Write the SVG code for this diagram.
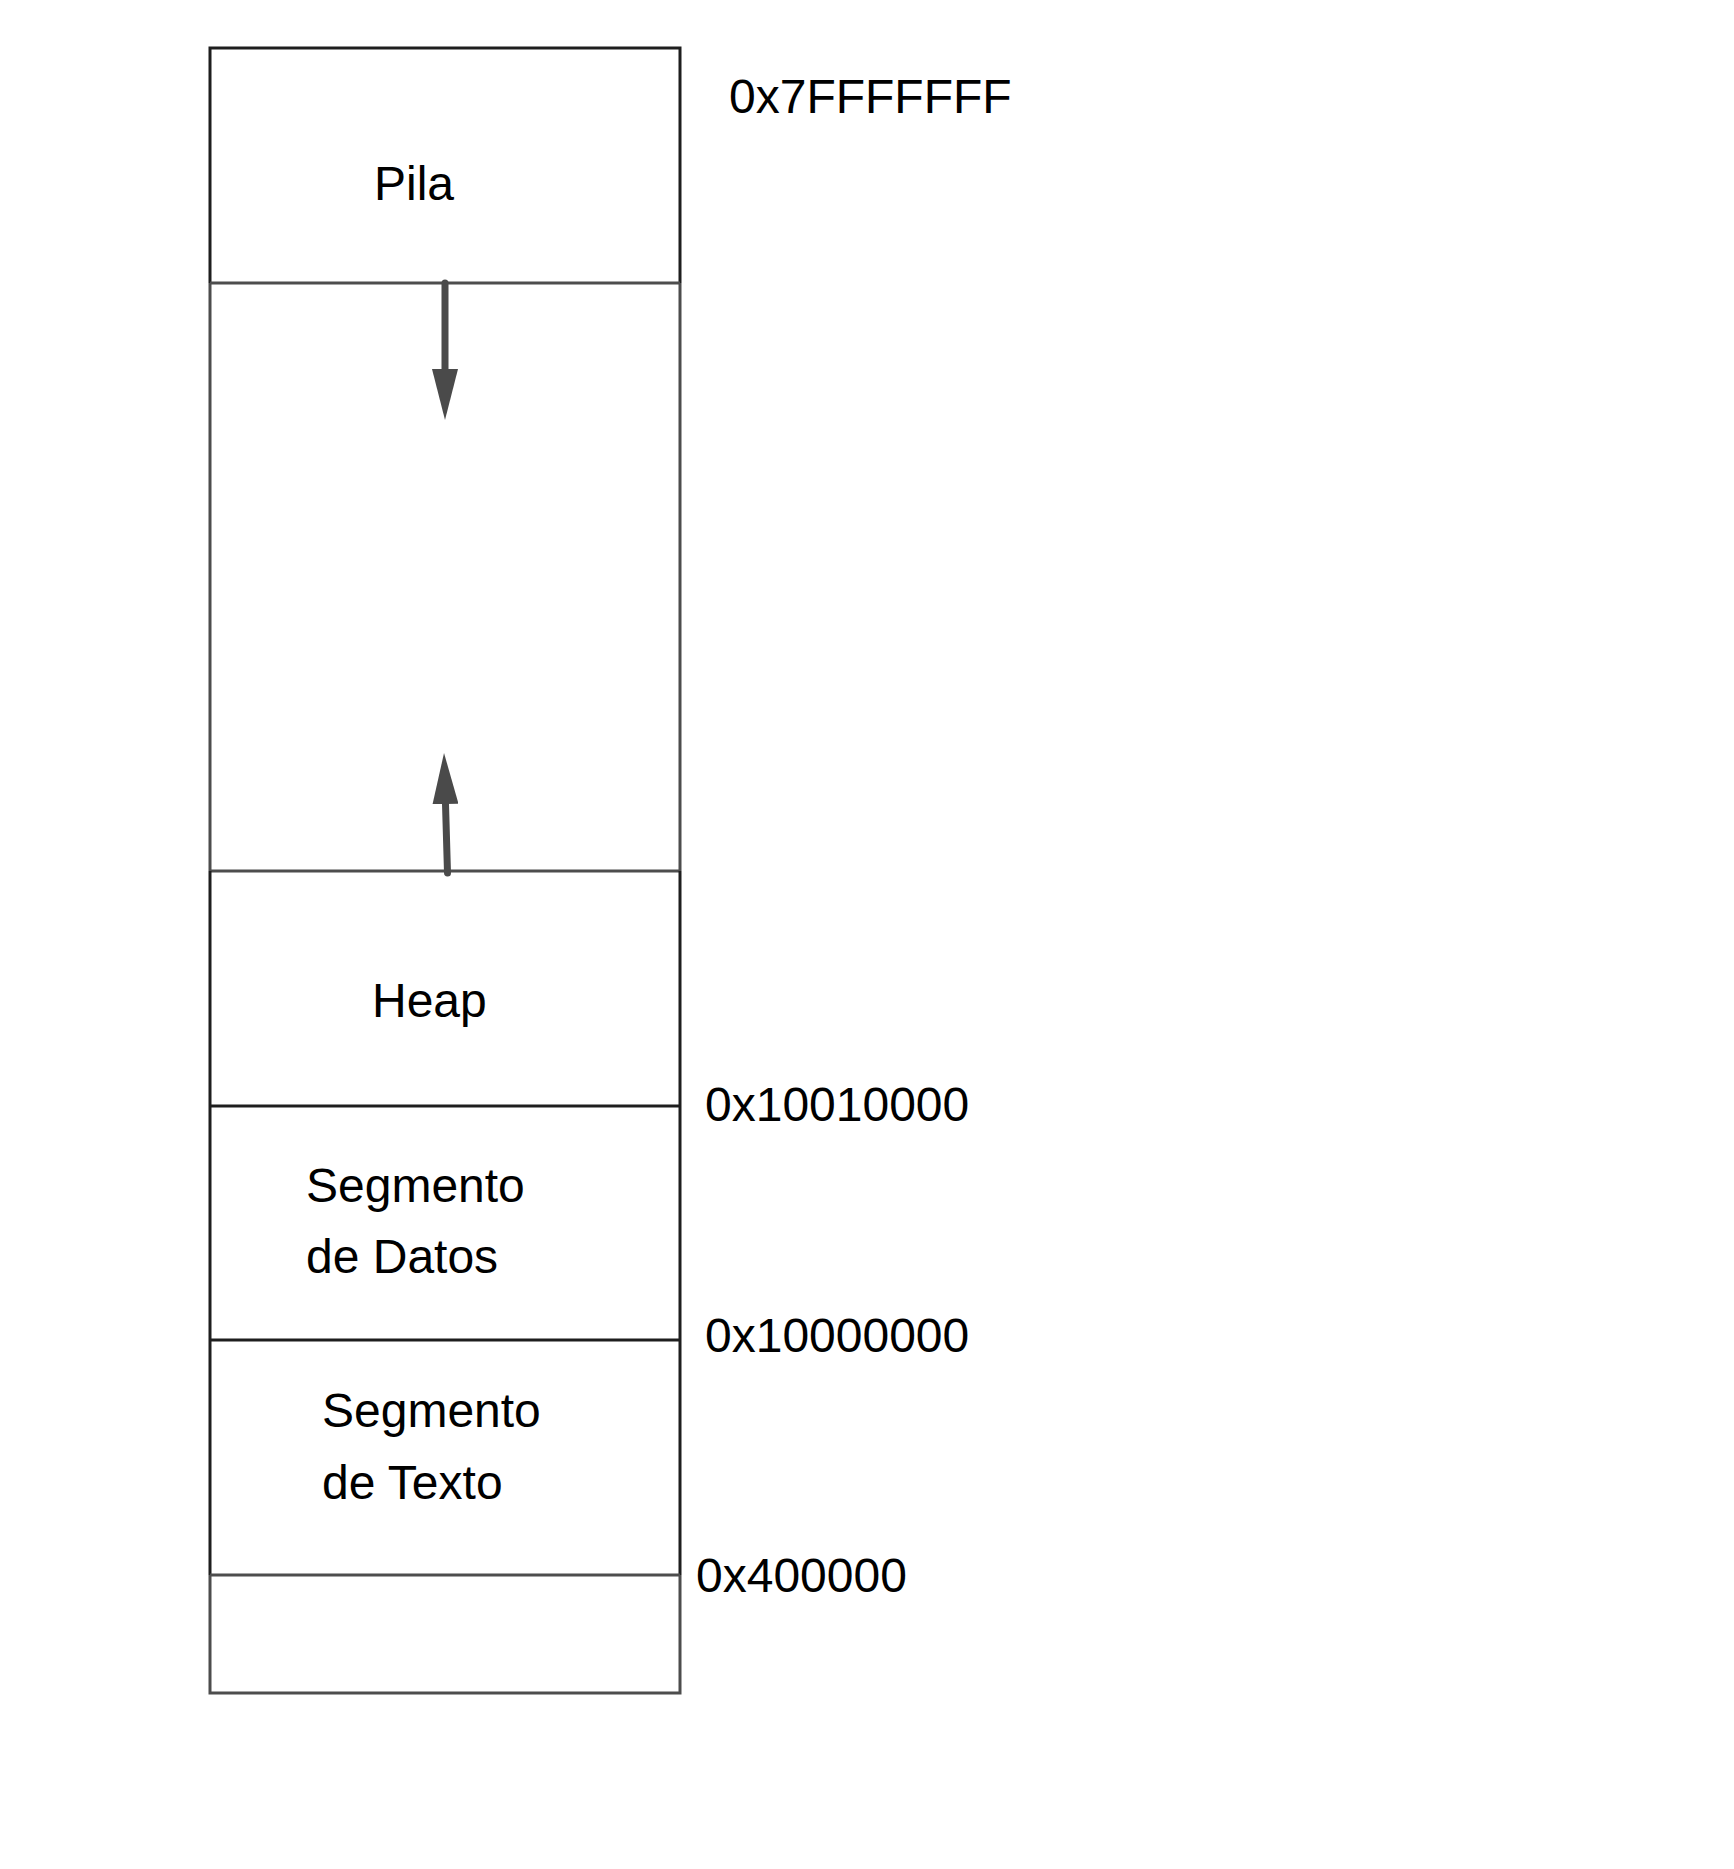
<svg xmlns="http://www.w3.org/2000/svg" width="1734" height="1869" viewBox="0 0 1734 1869">
<style>
.bk{fill:none;stroke:#1e1e1e;stroke-width:3}
.gr{fill:none;stroke:#4d4d4d;stroke-width:3}
.t{font-family:"Liberation Sans",Arial,sans-serif;font-size:48px;fill:#000}
.arr{stroke:#4a4a4a;stroke-width:7;stroke-linecap:round;fill:none}
</style>
<defs>
<marker id="ah" markerUnits="userSpaceOnUse" markerWidth="52" markerHeight="26" refX="0" refY="13" orient="auto" viewBox="0 0 52 26">
<path d="M0,0 L51,13 L0,26 z" fill="#4a4a4a"/>
</marker>
</defs>
<rect width="1734" height="1869" fill="#fff"/>
<g id="free">
<path class="gr" d="M210,283 V871 M680,283 V871"/>
</g>
<g id="pila">
<path class="bk" d="M210,283 V48 H680 V283"/>
<path class="gr" d="M210,283 H680"/>
<text class="t" x="374" y="200">Pila</text>
</g>
<g id="heap">
<path class="gr" d="M210,871 H680"/>
<path class="bk" d="M210,871 V1106 M680,871 V1106"/>
<text class="t" x="372" y="1017">Heap</text>
</g>
<g id="datos">
<path class="bk" d="M210,1106 H680 M210,1106 V1340 M680,1106 V1340"/>
<text class="t" x="306" y="1202">Segmento</text>
<text class="t" x="306" y="1273">de Datos</text>
</g>
<g id="texto">
<path class="bk" d="M210,1340 H680 M210,1340 V1575 M680,1340 V1575"/>
<text class="t" x="322" y="1427">Segmento</text>
<text class="t" x="322" y="1499">de Texto</text>
</g>
<g id="reservado">
<path class="gr" d="M210,1575 H680 M210,1575 V1693 H680 V1575"/>
</g>
<g id="labels">
<text class="t" x="729" y="113">0x7FFFFFFF</text>
<text class="t" x="705" y="1121">0x10010000</text>
<text class="t" x="705" y="1352">0x10000000</text>
<text class="t" x="696" y="1592">0x400000</text>
</g>
<g id="connectors">
<line class="arr" x1="445" y1="283" x2="445" y2="369" marker-end="url(#ah)"/>
<line class="arr" x1="447.5" y1="873" x2="445.5" y2="804" marker-end="url(#ah)"/>
</g>
</svg>
